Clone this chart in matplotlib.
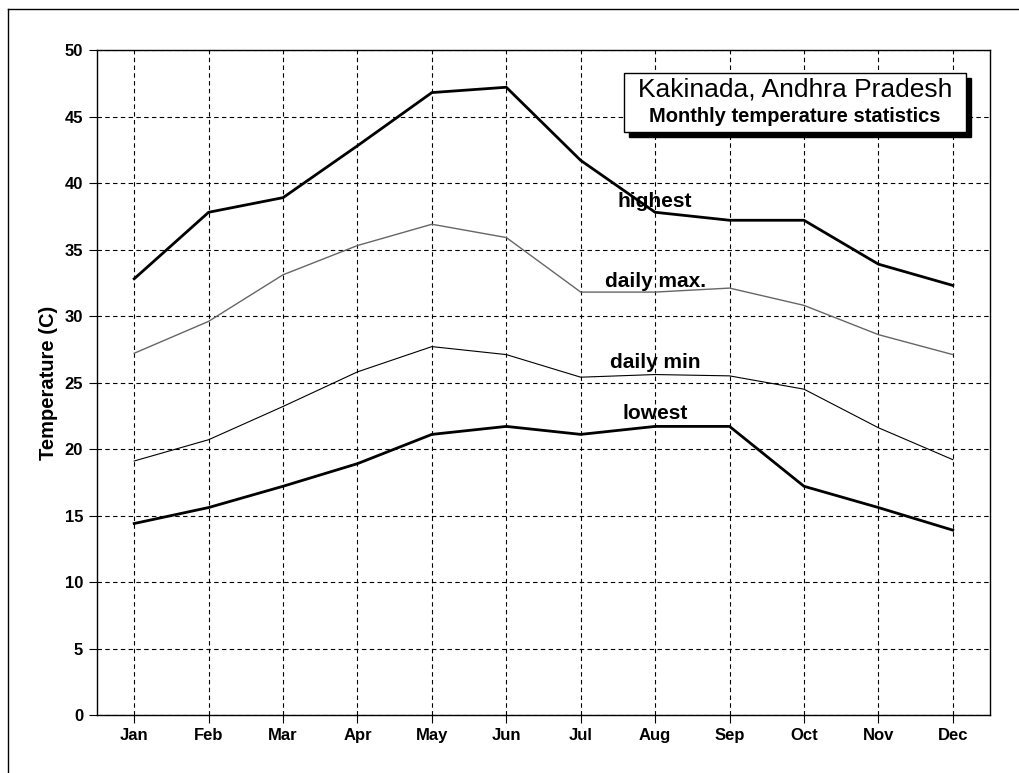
import matplotlib.pyplot as plt
from matplotlib.lines import Line2D
from matplotlib.patches import Rectangle

plt.rcParams['font.family'] = ['Liberation Sans', 'DejaVu Sans']

months = ['Jan', 'Feb', 'Mar', 'Apr', 'May', 'Jun',
          'Jul', 'Aug', 'Sep', 'Oct', 'Nov', 'Dec']
highest = [32.8, 37.8, 38.9, 42.8, 46.8, 47.2, 41.7, 37.8, 37.2, 37.2, 33.9, 32.3]
daily_max = [27.2, 29.6, 33.1, 35.3, 36.9, 35.9, 31.8, 31.8, 32.1, 30.8, 28.6, 27.1]
daily_min = [19.1, 20.7, 23.2, 25.8, 27.7, 27.1, 25.4, 25.6, 25.5, 24.5, 21.6, 19.2]
lowest = [14.4, 15.6, 17.2, 18.9, 21.1, 21.7, 21.1, 21.7, 21.7, 17.2, 15.6, 13.9]

y_ticks = list(range(0, 51, 5))

# labels placed next to each curve
labels = ['highest', 'daily max.', 'daily min', 'lowest']
label_y = [38.6, 32.6, 26.5, 22.7]


def plot_data():
    fig = plt.figure(figsize=(10.2, 7.73), dpi=100)
    ax = fig.add_axes([0.0951, 0.075, 0.8755, 0.8603])

    x = list(range(len(months)))

    ax.set_axisbelow(True)
    ax.grid(True, color='black', linestyle=(0, (4, 3)), linewidth=0.8)

    ax.plot(x, highest, color='black', linewidth=2.0)
    ax.plot(x, daily_max, color='#666666', linewidth=1.0)
    ax.plot(x, daily_min, color='black', linewidth=0.8)
    ax.plot(x, lowest, color='black', linewidth=2.0)

    for text, yv in zip(labels, label_y):
        ax.text(7, yv, text, ha='center', va='center', fontsize=15,
                fontweight='bold')

    ax.set_xlim(-0.5, 11.5)
    ax.set_ylim(0, 50)
    ax.set_xticks(x)
    ax.set_xticklabels(months, fontsize=12, fontweight='bold')
    ax.set_yticks(y_ticks)
    ax.set_yticklabels([str(v) for v in y_ticks], fontsize=12, fontweight='bold')
    ax.tick_params(axis='x', length=6, width=0.8, pad=3)
    ax.tick_params(axis='y', length=6, width=0.8, pad=4)
    ax.set_ylabel('Temperature (C)', fontsize=14.5, fontweight='bold', labelpad=5)
    for s in ax.spines.values():
        s.set_linewidth(1.0)

    # title box with shadow
    box_x, box_y, box_w, box_h = 624 / 1020, 1 - 132 / 773, 342 / 1020, 59 / 773
    fig.add_artist(Rectangle((box_x + 5 / 1020, box_y - 5 / 773), box_w, box_h,
                             transform=fig.transFigure, facecolor='black',
                             edgecolor='black', zorder=5))
    fig.add_artist(Rectangle((box_x, box_y), box_w, box_h,
                             transform=fig.transFigure, facecolor='white',
                             edgecolor='black', linewidth=1.0, zorder=6))
    cx = box_x + box_w / 2
    fig.text(cx, 1 - 90 / 773, 'Kakinada, Andhra Pradesh', ha='center',
             va='center', fontsize=19, zorder=7)
    fig.text(cx, 1 - 117 / 773, 'Monthly temperature statistics', ha='center',
             va='center', fontsize=14.5, fontweight='bold', zorder=7)

    # outer frame lines
    fig.add_artist(Line2D([8 / 1020, 1], [1 - 9 / 773, 1 - 9 / 773],
                          color='black', linewidth=1.0))
    fig.add_artist(Line2D([8 / 1020, 8 / 1020], [0, 1 - 9 / 773],
                          color='black', linewidth=1.0))

    fig.savefig('out.png', dpi=100)


if __name__ == "__main__":
    plot_data()
